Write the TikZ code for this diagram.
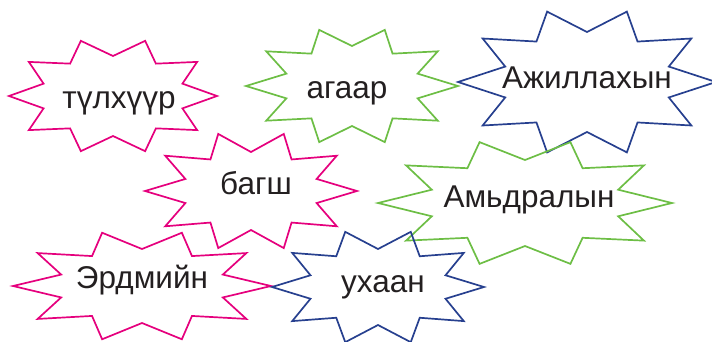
\documentclass[tikz,border=0pt]{standalone}
\usepackage{fontspec}
\setmainfont{Liberation Sans}
\definecolor{mag}{HTML}{E5007D}
\definecolor{grn}{HTML}{6DBE45}
\definecolor{blu}{HTML}{27408F}
\definecolor{txt}{HTML}{231F20}
\newcommand{\burst}[7]{%
  \draw[burstline,#7] ({#1+#3},{#2})
    \foreach \k in {0,...,9}{
      -- ({#1+#5*cos(36*\k+18)},{#2+#6*sin(36*\k+18)})
      -- ({#1+#3*cos(36*\k+36)},{#2+#4*sin(36*\k+36)})
    } -- cycle;}
\begin{document}
\begin{tikzpicture}[x=1pt,y=-1pt,
  burstline/.style={line width=1.7pt,line join=miter},
  lbl/.style={anchor=base,inner sep=0pt,text=txt,font=\fontsize{31.5}{36}\selectfont}]
\useasboundingbox (0,0) rectangle (712,341);
\burst{113}{96}{104}{58}{73}{40}{mag}
\burst{352}{86}{106}{59}{69}{40}{grn}
\burst{587}{82}{129}{74}{86}{50}{blu}
\burst{251}{191}{106}{60}{69}{39}{mag}
\burst{525}{203}{147}{64}{98}{43}{grn}
\burst{142}{286}{129}{56}{85}{37}{mag}
\burst{378}{287}{106}{58}{71}{38}{blu}
\node[lbl] (t1) at (119,108) {түлхүүр};
\node[lbl] (t2) at (347,98) {агаар};
\node[lbl] (t3) at (587,88) {Ажиллахын};
\node[lbl] (t4) at (256,194) {багш};
\node[lbl] (t5) at (529,207) {Амьдралын};
\node[lbl] (t6) at (142,288) {Эрдмийн};
\node[lbl] (t7) at (383,292) {ухаан};
\end{tikzpicture}
\end{document}
